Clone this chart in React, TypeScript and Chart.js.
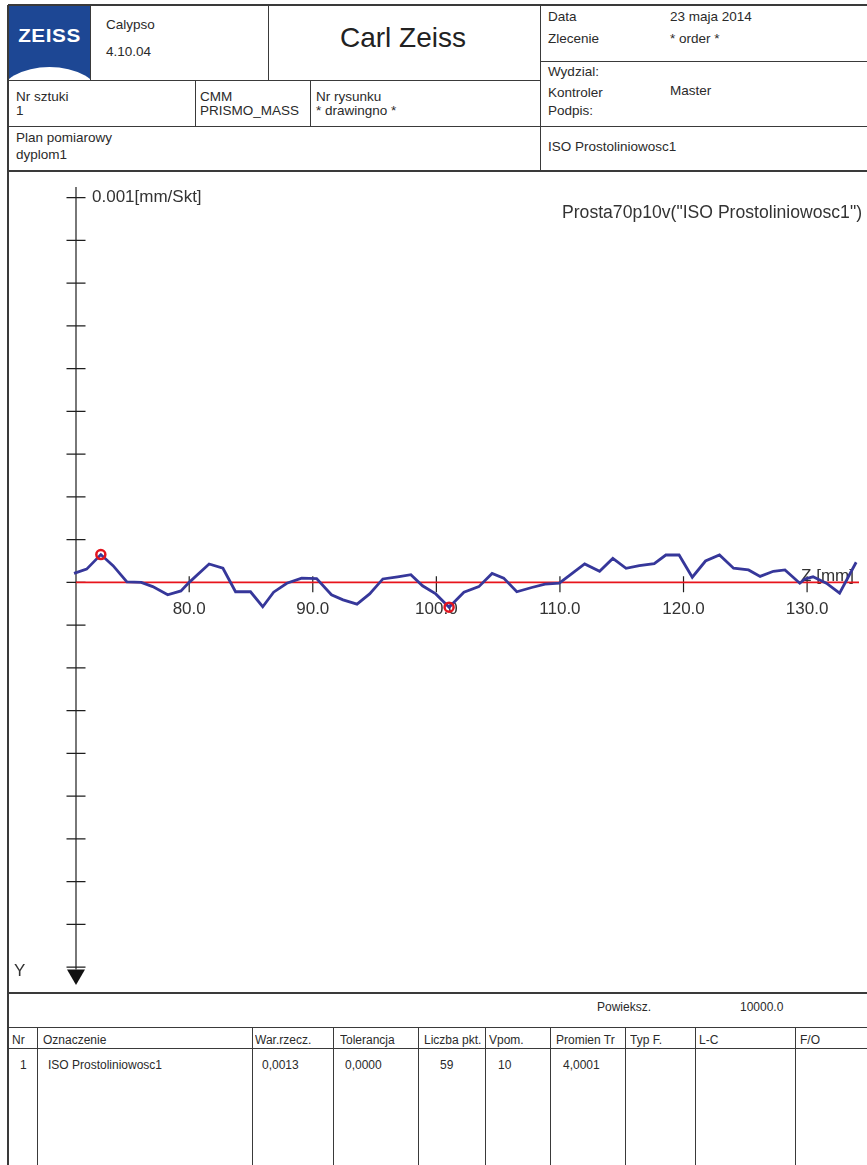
import React, { useEffect, useRef } from "react";
import { Chart, registerables } from "chart.js";

Chart.register(...registerables);

// ---- measured profile (Z in mm, deviation in 0.001 mm) ----
const zPositions = [
  70.68, 71.7, 72.85, 73.84, 74.96, 76.12, 77.05, 78.26, 79.33, 80.0,
  81.61, 82.73, 83.75, 84.96, 85.95, 86.83, 87.9, 89.1, 90.31, 91.51,
  92.45, 93.58, 94.6, 95.67, 96.87, 97.94, 98.88, 99.95, 101.03, 102.23,
  103.44, 104.51, 105.45, 106.51, 107.72, 108.79, 109.95, 111.07, 112.0, 113.21,
  114.28, 115.35, 116.42, 117.63, 118.57, 119.64, 120.71, 121.78, 122.91, 124.05,
  125.26, 126.2, 127.27, 128.21, 129.41, 129.82, 130.48, 131.56, 132.63, 133.97,
];
const deviations = [
  0.21, 0.31, 0.65, 0.39, 0.01, 0.0, -0.1, -0.29, -0.2, 0.0,
  0.43, 0.33, -0.22, -0.22, -0.57, -0.23, -0.02, 0.1, 0.09, -0.29,
  -0.41, -0.51, -0.27, 0.08, 0.13, 0.18, -0.08, -0.27, -0.58, -0.23,
  -0.1, 0.21, 0.1, -0.22, -0.12, -0.04, -0.02, 0.23, 0.43, 0.26,
  0.56, 0.33, 0.39, 0.44, 0.64, 0.64, 0.12, 0.5, 0.64, 0.33,
  0.29, 0.14, 0.26, 0.29, -0.02, 0.08, 0.13, -0.02, -0.25, 0.47,
];
const extremaIndex = [2, 28];

const xTickValues = [80, 90, 100, 110, 120, 130];
const yTickValues = [-9, -8, -7, -6, -5, -4, -3, -2, -1, 0, 1, 2, 3, 4, 5, 6, 7, 8, 9];
const yAxisZ = 70.84;
const zMin = 70.84;
const zMax = 134.2;
const devMin = -9.42;
const devMax = 9.25;
const arrowTopDev = -9.06;
const zeroLineRange = [70.84, 134.2];

const yUnitLabel = "0.001[mm/Skt]";
const xAxisName = "Z [mm]";
const yAxisName = "Y";
const chartTitle = 'Prosta70p10v("ISO Prostoliniowosc1")';

// ---- table ----
const tableHeaders = ["Nr", "Oznaczenie", "War.rzecz.", "Tolerancja", "Liczba pkt.", "Vpom.", "Promien Tr", "Typ F.", "L-C", "F/O"];
const tableRow = ["1", "ISO Prostoliniowosc1", "0,0013", "0,0000", "59", "10", "4,0001", "", "", ""];

const FONT = '"Liberation Sans", Arial, Helvetica, sans-serif';
const LINE = "#3a3a3a";

const axesPlugin = {
  id: "zeissAxes",
  beforeDatasetsDraw(chart: any) {
    const { ctx, chartArea } = chart;
    const xs = chart.scales.x;
    const ys = chart.scales.y;
    const ax = xs.getPixelForValue(yAxisZ);
    const y0 = ys.getPixelForValue(0);
    ctx.save();
    ctx.strokeStyle = "#1e1e1e";
    ctx.lineWidth = 1.2;
    ctx.beginPath();
    ctx.moveTo(ax, chartArea.top);
    ctx.lineTo(ax, ys.getPixelForValue(arrowTopDev));
    yTickValues.forEach((v) => {
      const py = ys.getPixelForValue(v);
      ctx.moveTo(ax - 9.5, py);
      ctx.lineTo(ax + 9.5, py);
    });
    xTickValues.forEach((v) => {
      const px = xs.getPixelForValue(v);
      ctx.moveTo(px, y0 - 6);
      ctx.lineTo(px, y0 + 10);
    });
    ctx.stroke();
    // arrow head
    const at = ys.getPixelForValue(arrowTopDev);
    ctx.fillStyle = "#111";
    ctx.beginPath();
    ctx.moveTo(ax - 9, at);
    ctx.lineTo(ax + 9, at);
    ctx.lineTo(ax, chartArea.bottom);
    ctx.closePath();
    ctx.fill();
    // texts
    ctx.fillStyle = "#333";
    ctx.font = `17px ${FONT}`;
    ctx.textBaseline = "middle";
    ctx.textAlign = "center";
    xTickValues.forEach((v) => {
      ctx.fillText(v.toFixed(1), xs.getPixelForValue(v), y0 + 27);
    });
    ctx.textAlign = "left";
    ctx.fillText(yUnitLabel, ax + 16, ys.getPixelForValue(9));
    ctx.fillText(xAxisName, xs.getPixelForValue(130) - 6, y0 - 6);
    ctx.fillText(yAxisName, 5, chartArea.bottom - 14);
    ctx.textAlign = "right";
    ctx.font = `17.6px ${FONT}`;
    ctx.fillText(chartTitle, chart.width - 4, 40);
    ctx.restore();
  },
};

function ProfileChart() {
  const ref = useRef<HTMLCanvasElement>(null);
  useEffect(() => {
    const canvas = ref.current;
    if (!canvas) return;
    const profile = zPositions.map((z, i) => ({ x: z, y: deviations[i] }));
    const extrema = extremaIndex.map((i) => profile[i]);
    const chart = new Chart(canvas, {
      type: "line",
      data: {
        datasets: [
          {
            data: extrema,
            showLine: false,
            pointRadius: 4.5,
            pointBorderWidth: 2.5,
            pointBorderColor: "#e2141e",
            pointBackgroundColor: "rgba(0,0,0,0)",
            order: 0,
            clip: false,
          } as any,
          {
            data: profile,
            borderColor: "#36379a",
            borderWidth: 2.8,
            pointRadius: 0,
            tension: 0,
            order: 1,
            clip: false,
          } as any,
          {
            data: [
              { x: zeroLineRange[0], y: 0 },
              { x: zeroLineRange[1], y: 0 },
            ],
            borderColor: "#e8141c",
            borderWidth: 1.8,
            pointRadius: 0,
            order: 2,
          } as any,
        ],
      },
      options: {
        responsive: false,
        animation: false,
        events: [],
        layout: { padding: { left: 67, right: 1.4, top: 14, bottom: 5 } },
        plugins: {
          legend: { display: false },
          tooltip: { enabled: false },
          title: { display: false },
        },
        scales: {
          x: { type: "linear", min: zMin, max: zMax, display: false },
          y: { type: "linear", min: devMin, max: devMax, display: false },
        },
      },
      plugins: [axesPlugin],
    });
    return () => chart.destroy();
  }, []);
  return (
    <canvas
      ref={ref}
      width={857}
      height={819}
      style={{ position: "absolute", left: 9, top: 173, width: 857, height: 819 }}
    />
  );
}

function T({ x, y, s = 13.5, children, style }: any) {
  return (
    <div
      style={{
        position: "absolute",
        left: x,
        top: y,
        transform: "translateY(-50%)",
        fontSize: s,
        lineHeight: 1,
        whiteSpace: "nowrap",
        ...style,
      }}
    >
      {children}
    </div>
  );
}

function HL({ x1, x2, y, w = 1 }: any) {
  return <div style={{ position: "absolute", left: x1, top: y - w / 2, width: x2 - x1, height: w, background: LINE }} />;
}
function VL({ x, y1, y2, w = 1 }: any) {
  return <div style={{ position: "absolute", left: x - w / 2, top: y1, width: w, height: y2 - y1, background: LINE }} />;
}

const colX = [8, 37, 252, 333, 418, 485, 550, 625, 695, 795, 867];
const headTextX = [12, 43, 255, 340, 424, 489, 556, 630, 699, 800];
const rowTextX = [20, 48, 262, 345, 440, 498, 563, 630, 699, 800];

export default function App() {
  return (
    <div
      style={{
        position: "absolute",
        left: 0,
        top: 0,
        width: 867,
        height: 1165,
        overflow: "hidden",
        background: "#fff",
        fontFamily: FONT,
        color: "#2a2a2a",
      }}
    >
      {/* logo */}
      <div style={{ position: "absolute", left: 9, top: 6, width: 81, height: 74, background: "#1d4794", overflow: "hidden" }}>
        <div
          style={{
            position: "absolute",
            left: 0,
            width: 81,
            top: 20,
            textAlign: "center",
            color: "#fff",
            fontWeight: 900,
            fontSize: 18,
            letterSpacing: 0.5,
            fontFamily: FONT,
            transform: "scaleX(1.15)",
          }}
        >
          ZEISS
        </div>
        <div style={{ position: "absolute", left: -9, top: 61, width: 99, height: 56, borderRadius: "50%", background: "#fff" }} />
      </div>

      {/* header lines */}
      <HL x1={8} x2={867} y={5} w={1.5} />
      <VL x={8} y1={5} y2={1165} w={1.5} />
      <VL x={90} y1={5} y2={80} />
      <VL x={268} y1={5} y2={80} />
      <VL x={540} y1={5} y2={171} />
      <HL x1={540} x2={867} y={61} />
      <HL x1={8} x2={540} y={80} />
      <VL x={195} y1={80} y2={126} />
      <VL x={310} y1={80} y2={126} />
      <HL x1={8} x2={867} y={126} />
      <HL x1={8} x2={867} y={171} w={2} />

      {/* header texts */}
      <T x={106} y={25}>Calypso</T>
      <T x={106} y={52}>4.10.04</T>
      <T x={403} y={38} s={28} style={{ transform: "translate(-50%,-50%)", color: "#222" }}>
        Carl Zeiss
      </T>
      <T x={548} y={17}>Data</T>
      <T x={670} y={17}>23 maja 2014</T>
      <T x={548} y={39}>Zlecenie</T>
      <T x={670} y={39}>* order *</T>
      <T x={548} y={72}>Wydzial:</T>
      <T x={548} y={93}>Kontroler</T>
      <T x={670} y={91}>Master</T>
      <T x={548} y={111}>Podpis:</T>
      <T x={16} y={97}>Nr sztuki</T>
      <T x={16} y={111}>1</T>
      <T x={200} y={97}>CMM</T>
      <T x={200} y={111}>PRISMO_MASS</T>
      <T x={316} y={97}>Nr rysunku</T>
      <T x={316} y={111}>* drawingno *</T>
      <T x={16} y={138}>Plan pomiarowy</T>
      <T x={16} y={155}>dyplom1</T>
      <T x={548} y={147}>ISO Prostoliniowosc1</T>

      <ProfileChart />

      {/* bottom table */}
      <HL x1={8} x2={867} y={993} w={2} />
      <T x={597} y={1007} s={12}>Powieksz.</T>
      <T x={740} y={1007} s={12}>10000.0</T>
      <HL x1={8} x2={867} y={1027} />
      <HL x1={8} x2={867} y={1048} />
      {colX.slice(1, -1).map((x) => (
        <VL key={x} x={x} y1={1027} y2={1165} />
      ))}
      {tableHeaders.map((h, i) => (
        <div
          key={"h" + i}
          style={{
            position: "absolute",
            left: headTextX[i],
            top: 1032,
            width: colX[i + 1] - headTextX[i] - 1,
            overflow: "hidden",
            fontSize: 12,
            lineHeight: "16px",
            whiteSpace: "nowrap",
          }}
        >
          {h}
        </div>
      ))}
      {tableRow.map((c, i) => (
        <T key={"r" + i} x={rowTextX[i]} y={1065} s={12}>
          {c}
        </T>
      ))}
    </div>
  );
}
